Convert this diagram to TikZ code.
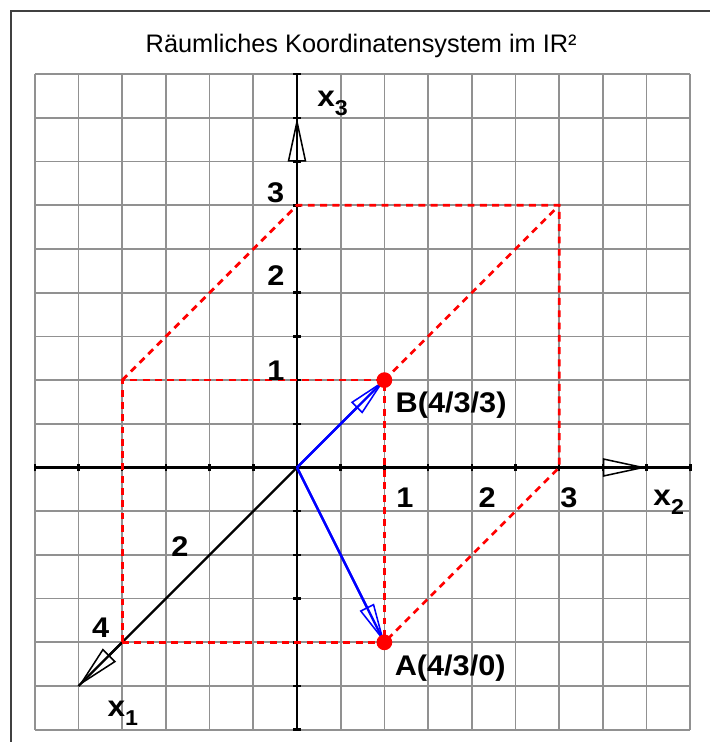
\documentclass[tikz,border=0pt]{standalone}
\usepackage{fontspec}
\setmainfont{Liberation Sans}
\newfontfamily\labfont[FakeStretch=1.08]{Liberation Sans Bold}
\usetikzlibrary{arrows.meta}
\definecolor{gridgray}{RGB}{145,145,145}
\definecolor{framegray}{RGB}{64,64,64}

\begin{document}
\begin{tikzpicture}[
  gridline/.style={draw=gridgray, line width=1.1pt},
  axis/.style={line width=1.6pt},
  axhead/.style={-{Triangle[open,length=1cm,width=0.42cm,line width=1pt]}},
  vec/.style={blue, line width=1.5pt},
  vechead/.style={-{Triangle[open,length=0.9cm,width=0.36cm,line width=1pt]}},
  box/.style={red, line width=1.8pt, dash pattern=on 4.5pt off 3.5pt},
  num/.style={inner sep=0pt, font=\labfont\fontsize{18.5}{19}\selectfont},
  axlab/.style={inner sep=0pt, anchor=base west, font=\labfont\fontsize{19}{20}\selectfont}]
  \useasboundingbox (-6.796,-6.281) rectangle (9.451,10.698);

  % Rahmen und Titel
  \draw[framegray, line width=1.3pt] (-6.533,-6.281) -- (-6.533,10.435) -- (9.451,10.435);
  \node[anchor=base, inner sep=0pt, font=\fontsize{16.5}{18}\selectfont] (title) at (1.47,9.50)
    {Räumliches Koordinatensystem im IR²};

  % Kästchenpapier: 1 Kästchen = 1 cm
  \draw[gridline] (-6,-6) grid (9,9);

  % Achsen: x1 = (-1,-1), x2 = (2,0), x3 = (0,2) pro Einheit
  \coordinate (O) at (0,0);
  \draw[axis] (-6,0) -- (9,0);
  \draw[axis] (0,-6) -- (0,9);
  \draw[axis] (O) -- (-5,-5);
  \foreach \k in {-6,...,9} {
    \draw[axis] (\k,-0.09) -- (\k,0.09);
    \draw[axis] (-0.09,\k) -- (0.09,\k);
  }
  \draw[axis, axhead] (6.5,0) -- (8,0);
  \draw[axis, axhead] (0,6.5) -- (0,8);
  \draw[axis, axhead] (-4,-4) -- (-5,-5);

  % Quader
  \coordinate (X1) at (-4,-4);  % (4/0/0)
  \coordinate (X13) at (-4,2);  % (4/0/3)
  \coordinate (X3) at (0,6);    % (0/0/3)
  \coordinate (X23) at (6,6);   % (0/3/3)
  \coordinate (X2) at (6,0);    % (0/3/0)
  \coordinate (A) at (2,-4);    % (4/3/0)
  \coordinate (B) at (2,2);     % (4/3/3)
  \draw[box] (X1) -- (A);
  \draw[box] (X1) -- (X13) -- (B) -- (A);
  \draw[box] (X13) -- (X3) -- (X23) -- (X2) -- (A);
  \draw[box] (B) -- (X23);

  % Ortsvektoren
  \draw[vec] (O) -- (B);
  \draw[vec] (O) -- (A);
  \draw[vec, vechead] (O) -- (B);
  \draw[vec, vechead] (O) -- (A);
  \fill[red] (A) circle (0.18);
  \fill[red] (B) circle (0.18);

  % Beschriftung
  \node[num, anchor=base west] (labB) at (2.25,1.26) {B(4/3/3)};
  \node[num, anchor=base west] (labA) at (2.23,-4.76) {A(4/3/0)};
  \node[num, anchor=base] (z1) at (-0.48,2.0) {1};
  \node[num, anchor=base] (z2) at (-0.48,4.17) {2};
  \node[num, anchor=base] (z3) at (-0.49,6.06) {3};
  \node[num, anchor=base] (y1) at (2.47,-0.92) {1};
  \node[num, anchor=base] (y2) at (4.35,-0.92) {2};
  \node[num, anchor=base] (y3) at (6.22,-0.92) {3};
  \node[num, anchor=base] (x2n) at (-2.68,-2.04) {2};
  \node[num, anchor=base] (x4n) at (-4.49,-3.89) {4};
  \node[axlab] (lx3) at (0.46,8.26) {x\raisebox{-6pt}{\fontsize{14}{15}\selectfont 3}};
  \node[axlab] (lx2) at (8.15,-0.87) {x\raisebox{-6pt}{\fontsize{14}{15}\selectfont 2}};
  \node[axlab] (lx1) at (-4.34,-5.70) {x\raisebox{-6pt}{\fontsize{14}{15}\selectfont 1}};
\end{tikzpicture}
\end{document}
